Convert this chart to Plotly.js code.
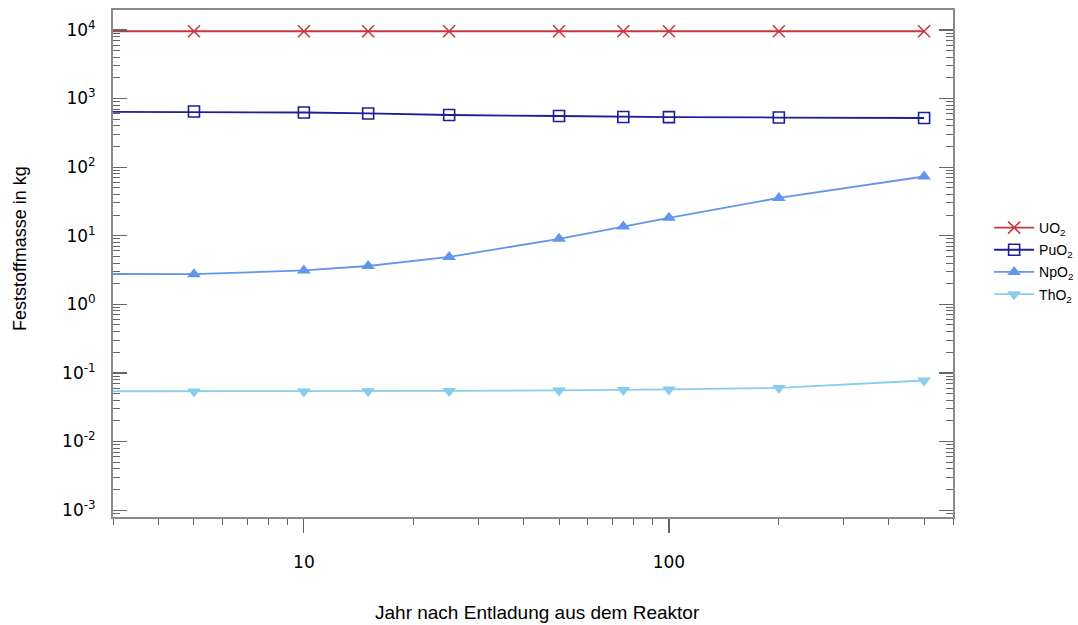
<!DOCTYPE html>
<html>
<head>
<meta charset="utf-8">
<script src="https://cdn.plot.ly/plotly-3.0.1.min.js"></script>
<style>html,body{margin:0;padding:0;background:#fff;}#chart{width:1078px;height:625px;}</style>
</head>
<body>
<div id="chart"></div>
<script>
// Years after discharge (first point lies left of the visible range; its line segment enters from the edge)
const years = [1, 5, 10, 15, 25, 50, 75, 100, 200, 500];
const uo2  = [9550, 9550, 9550, 9550, 9550, 9550, 9550, 9550, 9550, 9550];
const puo2 = [655, 645, 625, 605, 575, 556, 538, 536, 528, 520];
const npo2 = [2.8, 2.75, 3.12, 3.62, 4.9, 9.0, 13.6, 18.2, 35.5, 73];
const tho2 = [0.0538, 0.0538, 0.0538, 0.0540, 0.0546, 0.0555, 0.0563, 0.0574, 0.0605, 0.0775];

const names = ['UO<sub>2</sub>', 'PuO<sub>2</sub>', 'NpO<sub>2</sub>', 'ThO<sub>2</sub>'];
const yTickVals = [1e-3, 1e-2, 1e-1, 1, 10, 100, 1000, 10000];
const yTickText = ['10<sup>-3</sup>', '10<sup>-2</sup>', '10<sup>-1</sup>', '10<sup>0</sup>', '10<sup>1</sup>', '10<sup>2</sup>', '10<sup>3</sup>', '10<sup>4</sup>'];
const xTickVals = [10, 100];
const xTickText = ['10', '100'];
const xTitle = 'Jahr nach Entladung aus dem Reaktor';
const yTitle = 'Feststoffmasse in kg';

const series = [
  {y: uo2,  color: '#c8373a', symbol: 'x-thin-open', size: 12, mlw: 1.6},
  {y: puo2, color: '#1c1f96', symbol: 'square-open', size: 11, mlw: 1.6},
  {y: npo2, color: '#6495ed', symbol: 'triangle-up', size: 12, mlw: 0},
  {y: tho2, color: '#87ceeb', symbol: 'triangle-down', size: 12, mlw: 0}
];

const traces = series.map((s, i) => ({
  x: years, y: s.y, name: names[i], type: 'scatter', mode: 'lines+markers',
  legendgroup: 'g' + i,
  line: {color: s.color, width: 1.8},
  marker: {symbol: s.symbol, size: s.size, color: s.color, line: {color: s.color, width: s.mlw}}
}));

const titleFont = {family: 'Liberation Sans, Arial', color: '#000'};

const layout = {
  width: 1078, height: 625,
  margin: {l: 113, r: 125, t: 10, b: 108, autoexpand: false},
  paper_bgcolor: '#fff', plot_bgcolor: '#fff',
  showlegend: true,
  legend: {x: 1.043, y: 0.505, xanchor: 'left', yanchor: 'middle', font: {family: 'Liberation Sans, Arial', size: 14, color: '#000'}, tracegroupgap: 1, itemwidth: 40},
  xaxis: {
    type: 'log', range: [Math.log10(3), Math.log10(600)],
    showline: true, linecolor: '#8a8a8a', linewidth: 2, mirror: true,
    showgrid: false, zeroline: false,
    tickmode: 'array', tickvals: xTickVals, ticktext: xTickText,
    ticks: 'outside', ticklen: 14, tickwidth: 1.2, tickcolor: '#666',
    ticklabelstandoff: 15,
    tickfont: {family: 'DejaVu Sans', size: 17, color: '#000'},
    minor: {ticks: 'outside', ticklen: 6, tickwidth: 1, tickcolor: '#666', dtick: 'D1', showgrid: false}
  },
  yaxis: {
    type: 'log', range: [-3.1, 4.29],
    showline: true, linecolor: '#8a8a8a', linewidth: 2, mirror: 'ticks',
    showgrid: false, zeroline: false,
    tickmode: 'array', tickvals: yTickVals, ticktext: yTickText,
    ticks: 'inside', ticklen: 14, tickwidth: 1.2, tickcolor: '#666',
    ticklabelstandoff: 12,
    tickfont: {family: 'DejaVu Sans', size: 17, color: '#000'},
    minor: {ticks: 'inside', ticklen: 7, tickwidth: 1, tickcolor: '#666', dtick: 'D1', showgrid: false}
  },
  annotations: [
    {text: xTitle, xref: 'paper', yref: 'paper', x: 0.5048, y: -0.1874, xanchor: 'center', yanchor: 'middle', showarrow: false, font: Object.assign({size: 19}, titleFont)},
    {text: yTitle, xref: 'paper', yref: 'paper', x: -0.1107, y: 0.5286, xanchor: 'center', yanchor: 'middle', textangle: -90, showarrow: false, font: Object.assign({size: 18}, titleFont)}
  ]
};

Plotly.newPlot('chart', traces, layout, {displayModeBar: false, staticPlot: true});
</script>
</body>
</html>
